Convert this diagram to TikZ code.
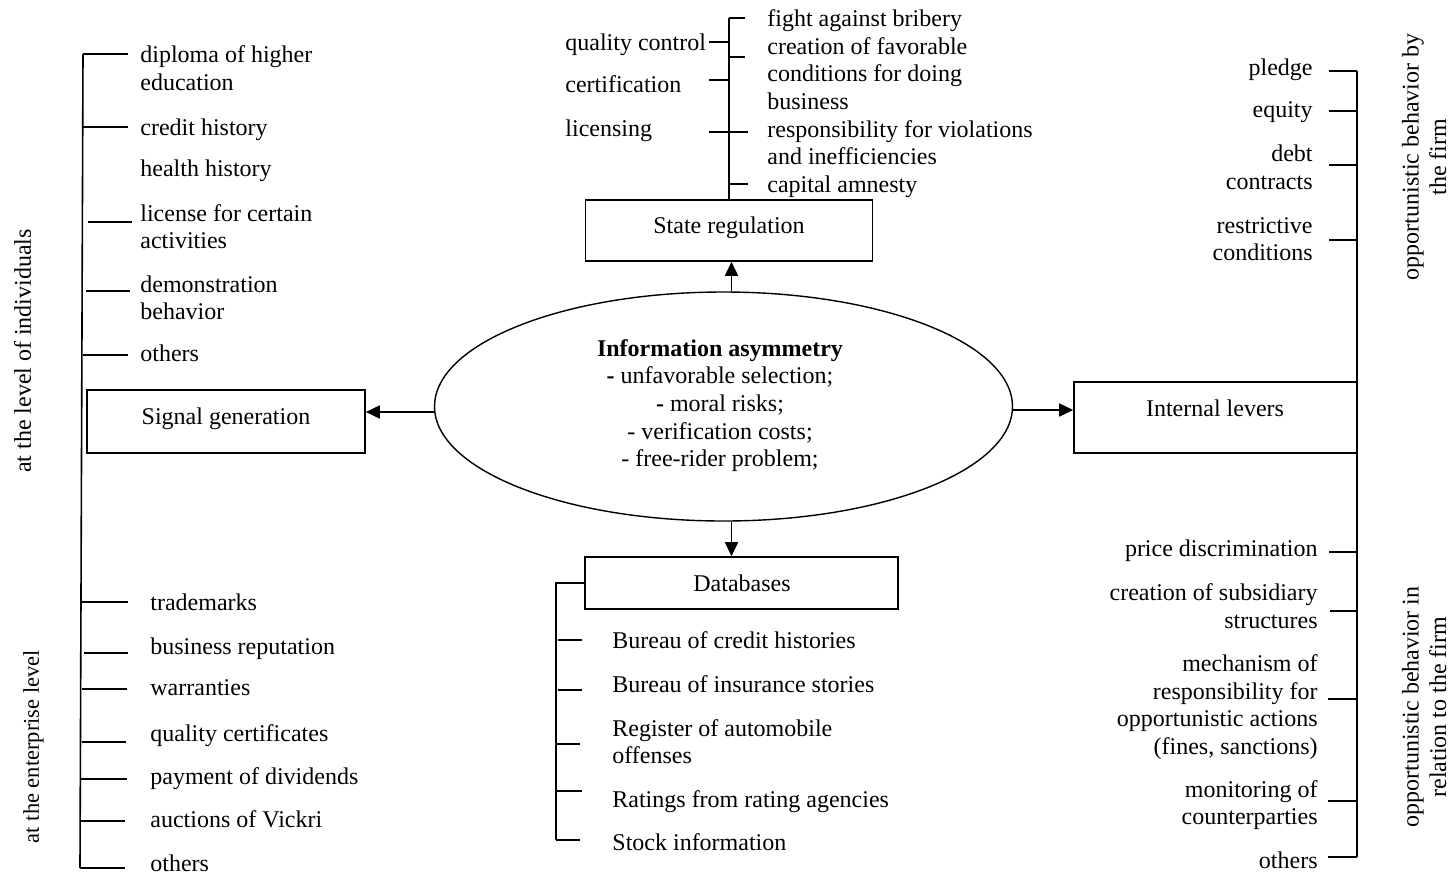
\documentclass[tikz,border=0pt]{standalone}
\usepackage{fontspec}
\setmainfont{Liberation Serif}
\usetikzlibrary{arrows.meta,shapes.geometric}
\begin{document}
\begin{tikzpicture}[x=0.5pt,y=-0.5pt,
  txt/.style={font=\fontsize{12}{13.8}\selectfont, inner sep=0pt, text depth=0pt},
  lt/.style={txt, anchor=west, align=left},
  rt/.style={txt, anchor=east, align=right},
  ln/.style={line width=0.8pt},
  boxn/.style={draw, line width=0.8pt, inner sep=0pt},
  arr/.style={line width=0.8pt, -{Triangle[length=7pt,width=6.5pt]}},
  rot/.style={txt, rotate=90, align=center}]
\useasboundingbox (0,0) rectangle (1451,874);

% central ellipse
\node[draw, ellipse, line width=0.7pt, minimum width=289pt, minimum height=114.5pt, inner sep=0pt] (ia) at (723.5,406.5) {};
\node[txt, align=center] (iat) at (720,403) {\textbf{Information asymmetry}\\\textbf{-} unfavorable selection;\\\textbf{-} moral risks;\\- verification costs;\\- free-rider problem;};

% boxes
\node[boxn, minimum width=143.5pt, minimum height=30.5pt] (state) at (729,230.5) {};
\node[txt] (statet) at (729,225) {State regulation};
\node[boxn, minimum width=139pt, minimum height=31.5pt] (sig) at (226,421.5) {};
\node[txt] (sigt) at (226,416) {Signal generation};
\node[boxn, minimum width=141.5pt, minimum height=35.5pt] (il) at (1215.5,417.5) {};
\node[txt] (ilt) at (1215,408) {Internal levers};
\node[boxn, minimum width=156.5pt, minimum height=26pt] (db) at (741.5,583) {};
\node[txt] (dbt) at (742,583) {Databases};

% arrows
\draw[arr] ([xshift=4pt]ia.north) -- ([xshift=4pt]ia.north |- state.south);
\draw[arr] ([xshift=4pt]ia.south) -- ([xshift=4pt]ia.south |- db.north);
\draw[arr] ([yshift=-2.75pt]ia.west) -- ([yshift=-2.75pt]ia.west -| sig.east);
\draw[arr] ([yshift=-1.75pt]ia.east) -- ([yshift=-1.75pt]ia.east -| il.west);

% top: state regulation
\coordinate (sTop) at (729,18);
\draw[ln] (state.north) -- (sTop);
\draw[ln] (sTop) -- (745,18);
\draw[ln] (709,42) -- (729,42);
\draw[ln] (729,57) -- (745,57);
\draw[ln] (709,80) -- (729,80);
\draw[ln] (709,132) -- (748,132);
\draw[ln] (729,184) -- (748,184);
\node[lt] (qc) at (565,42) {quality control};
\node[lt] (cert) at (565,84) {certification};
\node[lt] (lic) at (565,128) {licensing};
\node[lt] (fab) at (767,18) {fight against bribery};
\node[lt] (cfc) at (767,73.5) {creation of favorable\\conditions for doing\\business};
\node[lt] (rvi) at (767,142.5) {responsibility for violations\\and inefficiencies};
\node[lt] (cam) at (767,184) {capital amnesty};

% left bracket
\draw[ln] (83,54) -- (80,868);
\draw[ln] (83,54) -- (128,54);
\draw[ln] (83,127) -- (128,127);
\draw[ln] (88,222) -- (132,222);
\draw[ln] (86,291) -- (130,291);
\draw[ln] (83,355) -- (128,355);
\draw[ln] (82,602) -- (128,602);
\draw[ln] (84,653) -- (128,653);
\draw[ln] (82,689) -- (127,689);
\draw[ln] (82,742) -- (126,742);
\draw[ln] (81,779) -- (127,779);
\draw[ln] (81,821) -- (125,821);
\draw[ln] (80,868) -- (125,868);
\node[lt] (dip) at (140,68) {diploma of higher\\education};
\node[lt] (crh) at (140,127) {credit history};
\node[lt] (hh) at (140,168) {health history};
\node[lt] (lca) at (140,226.5) {license for certain\\activities};
\node[lt] (dem) at (140,297.5) {demonstration\\behavior};
\node[lt] (oth1) at (140,353) {others};
\node[lt] (tm) at (150,602) {trademarks};
\node[lt] (br) at (150,646) {business reputation};
\node[lt] (war) at (150,688) {warranties};
\node[lt] (qcert) at (150,733) {quality certificates};
\node[lt] (pod) at (150,776) {payment of dividends};
\node[lt] (auc) at (150,819) {auctions of Vickri};
\node[lt] (oth2) at (150,863) {others};
\node[txt, rotate=90, anchor=base] (lind) at (31,351) {at the level of individuals};
\node[txt, rotate=90, anchor=base, font=\fontsize{11.25}{13}\selectfont] (lent) at (39,746.5) {at the enterprise level};

% databases bracket
\draw[ln] (db.west) -- (556,583) -- (556,840);
\draw[ln] (558,640) -- (582,640);
\draw[ln] (558,690) -- (582,690);
\draw[ln] (556,744) -- (580,744);
\draw[ln] (556,791) -- (582,791);
\draw[ln] (556,840) -- (580,840);
\node[lt] (bch) at (612,640) {Bureau of credit histories};
\node[lt] (bis) at (612,684) {Bureau of insurance stories};
\node[lt] (rao) at (612,741.5) {Register of automobile\\offenses};
\node[lt] (rra) at (612,799) {Ratings from rating agencies};
\node[lt] (si) at (612,842) {Stock information};

% right bracket
\draw[ln] (1357,71) -- (1357,857);
\draw[ln] (1329,71) -- (1357,71);
\draw[ln] (1329,111) -- (1357,111);
\draw[ln] (1329,165) -- (1357,165);
\draw[ln] (1329,240) -- (1357,240);
\draw[ln] (1329,552) -- (1357,552);
\draw[ln] (1330,611) -- (1357,611);
\draw[ln] (1328,699) -- (1357,699);
\draw[ln] (1328,801) -- (1357,801);
\draw[ln] (1328,857) -- (1357,857);
\node[rt] (pl) at (1313,67) {pledge};
\node[rt] (eq) at (1313,110) {equity};
\node[rt] (dc) at (1313,167) {debt\\contracts};
\node[rt] (rc) at (1313,239) {restrictive\\conditions};
\node[rt] (pd) at (1318,548) {price discrimination};
\node[rt] (css) at (1318,606) {creation of subsidiary\\structures};
\node[rt] (mr) at (1318,704.5) {mechanism of\\responsibility for\\opportunistic actions\\(fines, sanctions)};
\node[rt] (mc) at (1318,802.5) {monitoring of\\counterparties};
\node[rt] (oth3) at (1318,860) {others};
\node[rot] (obf) at (1424,157) {opportunistic behavior by\\the firm};
\node[rot] (obr) at (1424,707) {opportunistic behavior in\\relation to the firm};
\end{tikzpicture}
\end{document}
